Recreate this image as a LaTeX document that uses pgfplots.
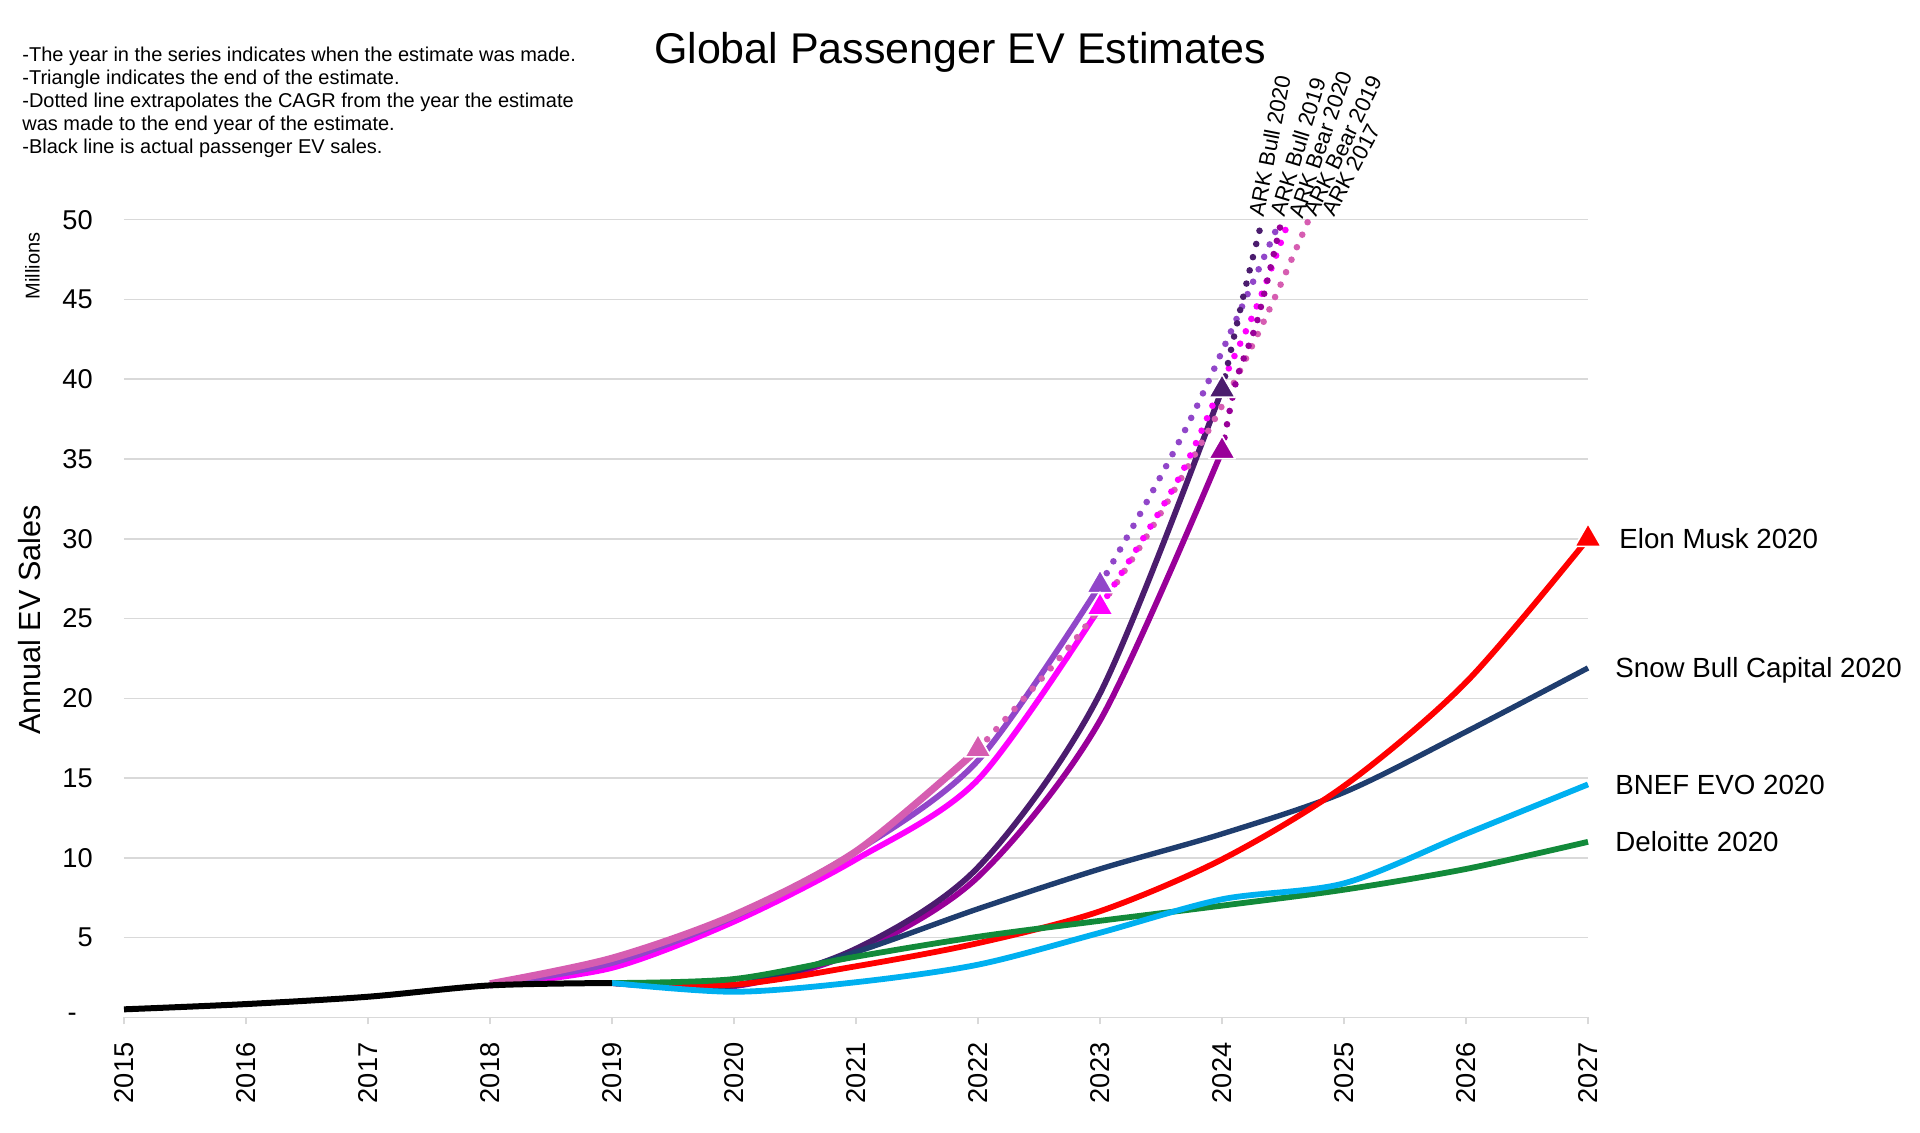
\documentclass[border=0pt]{standalone}
\usepackage{fontspec}
\setmainfont{Liberation Sans}
\usepackage{pgfplots}
\pgfplotsset{compat=1.18}
\definecolor{cArk}{HTML}{D65DB1}
\definecolor{cBullA}{HTML}{9146C9}
\definecolor{cBearA}{HTML}{FF00FF}
\definecolor{cBullB}{HTML}{4B1C6E}
\definecolor{cBearB}{HTML}{990099}
\definecolor{cMusk}{HTML}{FF0000}
\definecolor{cSnow}{HTML}{1F3D6E}
\definecolor{cBnef}{HTML}{00B0F0}
\definecolor{cDel}{HTML}{128A3A}
\definecolor{cGrid}{HTML}{D9D9D9}
\begin{document}
\begin{tikzpicture}
\useasboundingbox (-62pt,-57.35pt) rectangle (898pt,508.65pt);
\begin{axis}[
  at={(0pt,0pt)}, anchor=south west,
  scale only axis, width=732pt, height=398.8pt,
  xmin=2015, xmax=2027, ymin=0, ymax=50,
  clip=false,
  axis x line*=bottom, axis y line*=left,
  x axis line style={draw=cGrid, line width=0.75pt, -},
  y axis line style={draw=none, -},
  xtick={2015,2016,2017,2018,2019,2020,2021,2022,2023,2024,2025,2026,2027},
  xticklabels={2015,2016,2017,2018,2019,2020,2021,2022,2023,2024,2025,2026,2027},
  ytick={0,5,10,15,20,25,30,35,40,45,50},
  yticklabels={-\kern8pt,5,10,15,20,25,30,35,40,45,50},
  /pgf/number format/assume math mode=true,
  tick align=outside,
  major tick length=3.5pt,
  xtick style={draw=cGrid, line width=0.75pt},
  ytick style={draw=none},
  ymajorgrids, grid style={draw=cGrid, line width=0.75pt},
  ticklabel style={font=\fontsize{13.6}{16}\selectfont, text=black},
  xticklabel style={rotate=90, anchor=east, inner sep=0pt},
  xticklabel shift=9pt,
  yticklabel style={anchor=east, inner sep=0pt},
  yticklabel shift=12pt,
  every axis plot/.append style={line join=round},
]
% ---- solid estimate lines ----
\addplot[cBearB, line width=2.9pt, smooth] coordinates {(2019,2.15)(2020,1.95)(2021,4.1)(2022,8.8)(2023,18.6)(2024,35.5)};
\addplot[cBullB, line width=2.9pt, smooth] coordinates {(2019,2.15)(2020,2.0)(2021,4.3)(2022,9.4)(2023,20.3)(2024,39.35)};
\addplot[cSnow, line width=2.7pt, smooth] coordinates {(2019,2.15)(2020,2.0)(2021,4.1)(2022,6.8)(2023,9.3)(2024,11.5)(2025,14.1)(2026,17.9)(2027,21.9)};
\addplot[cMusk, line width=2.9pt, smooth] coordinates {(2019,2.15)(2020,2.05)(2021,3.2)(2022,4.65)(2023,6.65)(2024,9.9)(2025,14.5)(2026,21.0)(2027,30.0)};
\addplot[cDel, line width=2.9pt, smooth] coordinates {(2019,2.15)(2020,2.4)(2021,3.8)(2022,5.05)(2023,6.05)(2024,7.0)(2025,8.0)(2026,9.3)(2027,11.0)};
\addplot[cBnef, line width=2.9pt, smooth] coordinates {(2019,2.15)(2020,1.6)(2021,2.2)(2022,3.3)(2023,5.3)(2024,7.4)(2025,8.4)(2026,11.5)(2027,14.6)};
\addplot[cBearA, line width=2.9pt, smooth] coordinates {(2018,2.0)(2019,3.1)(2020,6.0)(2021,9.9)(2022,14.9)(2023,25.7)};
\addplot[cBullA, line width=2.9pt, smooth] coordinates {(2018,2.0)(2019,3.4)(2020,6.3)(2021,10.4)(2022,16.1)(2023,27.1)};
\addplot[cArk, line width=3.6pt, smooth] coordinates {(2018,2.1)(2019,3.7)(2020,6.4)(2021,10.4)(2022,16.8)};
% ---- actual ----
\addplot[black, line width=3pt, smooth] coordinates {(2015,0.5)(2016,0.83)(2017,1.29)(2018,2.0)(2019,2.15)};
% ---- dotted CAGR extrapolations ----
\addplot[cArk, line width=3.3pt, line cap=round, dash pattern=on 0pt off 6.8pt, smooth] coordinates {(2022,16.8)(2022.82,23.9)(2023.37,30.0)(2023.98,38.05)(2024.39,44.4)(2024.71,50)};
\addplot[cBullA, line width=3.3pt, line cap=round, dash pattern=on 0pt off 6.8pt, smooth] coordinates {(2023,27.1)(2023.44,33.1)(2023.8,38.4)(2024.26,46.2)(2024.48,50)};
\addplot[cBearA, line width=3.3pt, line cap=round, dash pattern=on 0pt off 6.8pt, smooth] coordinates {(2023,25.7)(2023.64,33.7)(2024.03,40.25)(2024.3,44.85)(2024.55,50)};
\addplot[cBullB, line width=3.3pt, line cap=round, dash pattern=on 0pt off 6.8pt, smooth] coordinates {(2024,39.35)(2024.175,45.2)(2024.33,50)};
\addplot[cBearB, line width=3.3pt, line cap=round, dash pattern=on 0pt off 6.8pt, smooth] coordinates {(2024,35.5)(2024.12,40.0)(2024.29,43.7)(2024.49,50)};
% ---- end-of-estimate triangles ----
\addplot[only marks, mark=triangle*, mark size=7.6pt, mark options={fill=cArk, draw=white, line width=0.8pt}] coordinates {(2022,16.8)};
\addplot[only marks, mark=triangle*, mark size=7.6pt, mark options={fill=cBullA, draw=white, line width=0.8pt}] coordinates {(2023,27.1)};
\addplot[only marks, mark=triangle*, mark size=7.6pt, mark options={fill=cBearA, draw=white, line width=0.8pt}] coordinates {(2023,25.7)};
\addplot[only marks, mark=triangle*, mark size=7.6pt, mark options={fill=cBullB, draw=white, line width=0.8pt}] coordinates {(2024,39.35)};
\addplot[only marks, mark=triangle*, mark size=7.6pt, mark options={fill=cBearB, draw=white, line width=0.8pt}] coordinates {(2024,35.5)};
\addplot[only marks, mark=triangle*, mark size=7.6pt, mark options={fill=cMusk, draw=white, line width=0.8pt}] coordinates {(2027,30.0)};
% ---- series labels ----
\begin{scope}[every node/.style={inner sep=0pt, font=\fontsize{13.85}{16}\selectfont, anchor=base west}]
\node[xshift=15.5pt, yshift=-5pt] at (axis cs:2027,30.0) {Elon Musk 2020};
\node[xshift=13.5pt, yshift=-5pt] at (axis cs:2027,21.9) {Snow Bull Capital 2020};
\node[xshift=13.5pt, yshift=-5pt] at (axis cs:2027,14.6) {BNEF EVO 2020};
\node[xshift=13.5pt, yshift=-5pt] at (axis cs:2027,11.0) {Deloitte 2020};
\end{scope}
\begin{scope}[every node/.style={inner sep=0pt, font=\fontsize{11}{12}\selectfont, anchor=base west}]
\node[rotate=79] at (axis cs:2024.34,50.1) {ARK Bull 2020};
\node[rotate=73] at (axis cs:2024.51,50.1) {ARK Bull 2019};
\node[rotate=71] at (axis cs:2024.66,50.0) {ARK Bear 2020};
\node[rotate=64] at (axis cs:2024.77,50.1) {ARK Bear 2019};
\node[rotate=62] at (axis cs:2024.92,50.1) {ARK 2017};
\end{scope}
\end{axis}
% ---- titles and notes ----
\node[anchor=base, inner sep=0pt, font=\fontsize{21.5}{24}\selectfont] at (418pt,477pt) {Global Passenger EV Estimates};
\node[anchor=north west, align=left, inner sep=0pt, font=\fontsize{10}{11.5}\selectfont] at (-51pt,485.15pt)
 {-The year in the series indicates when the estimate was made.\\
  -Triangle indicates the end of the estimate.\\
  -Dotted line extrapolates the CAGR from the year the estimate\\
  was made to the end year of the estimate.\\
  -Black line is actual passenger EV sales.};
\node[rotate=90, inner sep=0pt, font=\fontsize{10}{12}\selectfont] at (-45.75pt,375.65pt) {Millions};
\node[rotate=90, inner sep=0pt, font=\fontsize{15.3}{18}\selectfont] at (-47.25pt,198.65pt) {Annual EV Sales};
\end{tikzpicture}
\end{document}
